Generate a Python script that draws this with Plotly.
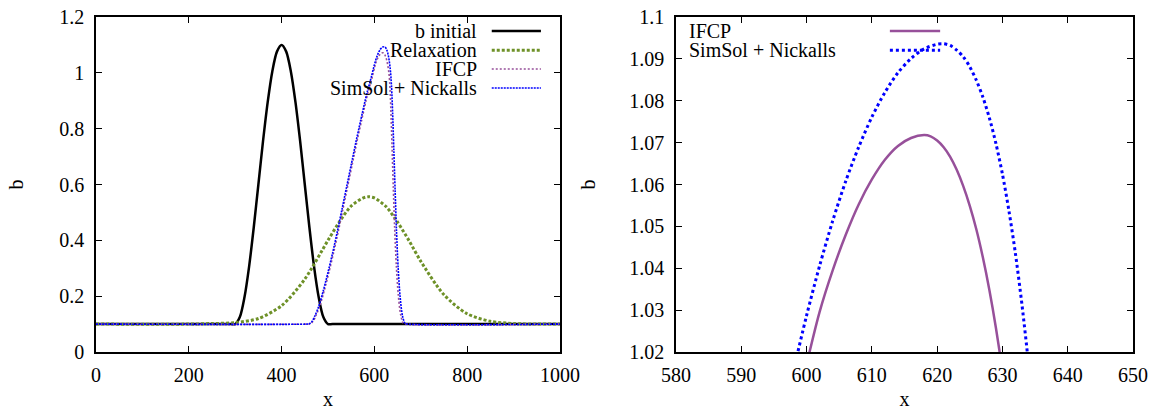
import plotly.graph_objects as go

# ---------------- data ----------------
b_init_x = [0, 290, 300, 310, 320, 330, 340, 350, 360, 370, 380, 390, 400,
            410, 420, 430, 440, 450, 460, 470, 480, 490, 500, 510, 1000]
b_init_y = [0.1, 0.1, 0.1, 0.125, 0.196, 0.306, 0.446, 0.6, 0.755, 0.894, 1.005, 1.076, 1.1,
            1.076, 1.005, 0.894, 0.755, 0.6, 0.446, 0.306, 0.196, 0.125, 0.1, 0.1, 0.1]

relax_x = [0, 200, 250, 300, 350, 400, 450, 500, 525, 550, 575, 587, 600,
           625, 650, 675, 700, 750, 800, 850, 900, 950, 1000]
relax_y = [0.1, 0.1, 0.102, 0.105, 0.12, 0.166, 0.261, 0.40, 0.467, 0.523, 0.551, 0.556, 0.552,
           0.521, 0.465, 0.398, 0.325, 0.205, 0.137, 0.11, 0.102, 0.1, 0.1]

ifcp_x = [0, 455, 462, 468, 474, 482, 492, 502, 512, 522, 532, 542, 552, 562, 572,
          582, 587, 592, 596, 600, 602, 604, 606, 608, 610, 612, 614, 616, 618,
          619, 620, 621, 622, 623, 624, 625, 626, 627, 628, 629, 630, 631, 632,
          633, 634, 635.5, 638, 640.8, 643.6, 647.3, 651.5, 656.5, 662, 668, 1000]
ifcp_y = [0.1, 0.1, 0.101, 0.11, 0.13, 0.163, 0.22, 0.285, 0.355, 0.43, 0.51, 0.59, 0.67, 0.75, 0.826,
          0.90, 0.934, 0.964, 0.989, 1.017, 1.0296, 1.0395, 1.048, 1.0553, 1.0612, 1.0659, 1.0692, 1.0711, 1.0718,
          1.0715, 1.0705, 1.0689, 1.0666, 1.0635, 1.0596, 1.0549, 1.0493, 1.0426, 1.0348, 1.0258, 1.0154, 1.0034, 0.9899,
          0.965, 0.935, 0.87, 0.74, 0.59, 0.45, 0.31, 0.205, 0.135, 0.104, 0.1, 0.1]

simsol_x = [0, 455, 460, 466, 472, 480, 490, 500, 510, 520, 530, 540, 550, 560, 570,
            580, 585, 590, 594, 598, 600, 602, 604, 606, 608, 610, 612, 614, 616, 618,
            620, 621, 622, 623, 624, 625, 626, 627, 628, 629, 630, 631, 632, 633,
            634, 635, 636, 637, 638, 639.5, 642, 644.8, 647.6, 651.3, 655.5, 660.5, 666, 672, 1000]
simsol_y = [0.1, 0.1, 0.101, 0.11, 0.13, 0.163, 0.22, 0.285, 0.355, 0.43, 0.51, 0.59, 0.67, 0.75, 0.826,
            0.90, 0.934, 0.964, 0.989, 1.0156, 1.0287, 1.0406, 1.0513, 1.0608, 1.069, 1.0761, 1.082, 1.0867, 1.0901, 1.0924,
            1.0935, 1.0936, 1.0932, 1.0921, 1.0905, 1.0881, 1.0849, 1.0809, 1.0759, 1.0698, 1.0625, 1.0537, 1.0434, 1.0312,
            1.0171, 1.0006, 0.978, 0.95, 0.915, 0.85, 0.72, 0.575, 0.437, 0.30, 0.198, 0.13, 0.103, 0.1, 0.1]

left_names = ["b initial", "Relaxation", "IFCP", "SimSol + Nickalls"]
right_names = ["IFCP", "SimSol + Nickalls"]

# ---------------- styles ----------------
BLACK = "#000000"
GREEN = "#6e9128"
PURPLE = "#97509a"
BLUE = "#0000ff"
FONT = "Liberation Serif"
FS = 20

left_styles = [
    dict(color=BLACK, width=2.5, dash="solid"),
    dict(color=GREEN, width=3, dash="3px,2px"),
    dict(color=PURPLE, width=1.6, dash="2px,2px"),
    dict(color=BLUE, width=1.6, dash="2px,1px"),
]
right_styles = [
    dict(color=PURPLE, width=2.5, dash="solid"),
    dict(color=BLUE, width=3, dash="3px,3px"),
]

fig = go.Figure()

left_data = [(b_init_x, b_init_y), (relax_x, relax_y), (ifcp_x, ifcp_y), (simsol_x, simsol_y)]
for (xs, ys), name, st in zip(left_data, left_names, left_styles):
    fig.add_trace(go.Scatter(x=xs, y=ys, mode="lines", name=name,
                             line=dict(shape="spline", smoothing=0.8, **st),
                             xaxis="x", yaxis="y", showlegend=False))

right_data = [(ifcp_x, ifcp_y), (simsol_x, simsol_y)]
for (xs, ys), name, st in zip(right_data, right_names, right_styles):
    fig.add_trace(go.Scatter(x=xs, y=ys, mode="lines", name=name,
                             line=dict(shape="spline", smoothing=0.8, **st),
                             xaxis="x2", yaxis="y2", showlegend=False))

# ---------------- gnuplot-like legends (text then sample) ----------------
annotations = []
shapes = []
left_rows = [0.958, 0.901, 0.845, 0.788]
for name, st, yy in zip(left_names, left_styles, left_rows):
    annotations.append(dict(xref="x domain", yref="y domain", x=0.825, y=yy, text=name,
                            showarrow=False, xanchor="right", yanchor="middle",
                            font=dict(family=FONT, size=FS, color="black")))
    shapes.append(dict(type="line", xref="x domain", yref="y domain", x0=0.853, x1=0.959, y0=yy, y1=yy,
                       line=dict(color=st["color"], width=st["width"], dash=st["dash"])))
right_rows = [0.958, 0.901]
for name, st, yy in zip(right_names, right_styles, right_rows):
    annotations.append(dict(xref="x2 domain", yref="y2 domain", x=0.024, y=yy, text=name,
                            showarrow=False, xanchor="left", yanchor="middle",
                            font=dict(family=FONT, size=FS, color="black")))
    shapes.append(dict(type="line", xref="x2 domain", yref="y2 domain", x0=0.468, x1=0.578, y0=yy, y1=yy,
                       line=dict(color=st["color"], width=st["width"], dash=st["dash"])))

axis_common = dict(showline=True, linecolor="black", linewidth=1.5, mirror="allticks",
                   ticks="inside", ticklen=6, tickwidth=1, tickcolor="black",
                   showgrid=False, zeroline=False, automargin=False,
                   tickfont=dict(family=FONT, size=FS, color="black"),
                   title_font=dict(family=FONT, size=FS, color="black"))

fig.update_layout(
    width=1161, height=410,
    margin=dict(l=96, r=28, t=17, b=58),
    paper_bgcolor="white", plot_bgcolor="white",
    xaxis=dict(domain=[0, 0.4474], range=[0, 1000], dtick=200, tick0=0,
               title=dict(text="x", standoff=8), ticklabelstandoff=4, **axis_common),
    yaxis=dict(domain=[0, 1], range=[0, 1.2], dtick=0.2, tick0=0,
               title=dict(text="b", standoff=30), ticklabelstandoff=6, **axis_common),
    xaxis2=dict(domain=[0.5593, 1], range=[580, 650], dtick=10, tick0=580, anchor="y2",
                title=dict(text="x", standoff=8), ticklabelstandoff=4, **axis_common),
    yaxis2=dict(domain=[0, 1], range=[1.02, 1.1], dtick=0.01, tick0=1.02, anchor="x2",
                title=dict(text="b", standoff=28), ticklabelstandoff=6, **axis_common),
    annotations=annotations,
    shapes=shapes,
)

fig.write_html("out.html", config={"displayModeBar": False},
               post_script="document.body.style.margin='0px';document.body.style.overflow='hidden';")
